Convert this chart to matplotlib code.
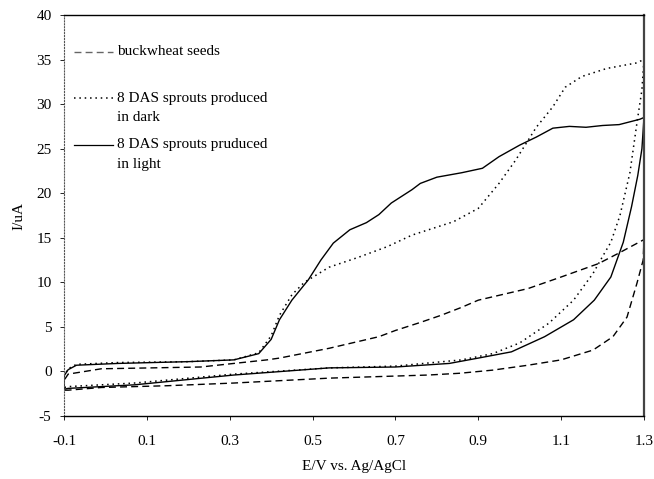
import matplotlib
matplotlib.use('agg')
import matplotlib.pyplot as plt

# scan data (forward sweep then reverse sweep)
light_x = [-0.1, -0.1, -0.09, -0.07, 0.03, 0.2, 0.31, 0.37, 0.4, 0.42, 0.45, 0.49,
           0.52, 0.55, 0.59, 0.63, 0.66, 0.69, 0.74, 0.76, 0.80, 0.86, 0.91, 0.95,
           1.0, 1.04, 1.08, 1.12, 1.16, 1.2, 1.24, 1.29, 1.3,
           1.295, 1.285, 1.27, 1.25, 1.22, 1.18, 1.13, 1.06, 0.98, 0.9, 0.83, 0.7,
           0.54, 0.31, 0.07, -0.09, -0.1]
light_y = [-2.0, -0.5, 0.2, 0.7, 0.9, 1.1, 1.3, 2.0, 3.6, 5.8, 8.0, 10.3,
           12.5, 14.4, 15.9, 16.7, 17.6, 18.9, 20.4, 21.1, 21.8, 22.3, 22.8, 24.1,
           25.4, 26.3, 27.3, 27.5, 27.4, 27.6, 27.7, 28.3, 28.5,
           25.0, 22.0, 18.5, 14.5, 10.6, 8.0, 5.8, 3.9, 2.2, 1.5, 0.9, 0.5,
           0.4, -0.4, -1.5, -1.9, -2.0]

dark_x = [-0.1, -0.1, -0.09, -0.07, 0.03, 0.2, 0.31, 0.37, 0.4, 0.42, 0.45, 0.48,
          0.54, 0.61, 0.68, 0.74, 0.76, 0.84, 0.9, 0.95, 0.99, 1.04, 1.08, 1.11,
          1.15, 1.21, 1.28, 1.3,
          1.295, 1.283, 1.266, 1.242, 1.22, 1.2, 1.177, 1.13, 1.07, 1.0, 0.935,
          0.86, 0.7, 0.54, 0.31, 0.07, -0.09, -0.1]
dark_y = [-1.8, -0.5, 0.3, 0.8, 1.0, 1.1, 1.3, 2.1, 4.0, 6.3, 8.6, 10.0,
          11.7, 12.8, 14.0, 15.3, 15.6, 16.8, 18.3, 21.1, 23.7, 27.4, 29.7, 31.9,
          33.1, 34.0, 34.6, 35.0,
          31.6, 27.9, 22.3, 17.5, 14.5, 12.9, 11.0, 8.0, 5.4, 3.2, 2.0,
          1.3, 0.6, 0.4, -0.3, -1.3, -1.7, -1.8]

seeds_x = [-0.1, -0.1, -0.09, -0.01, 0.23, 0.39, 0.42, 0.54, 0.66, 0.7, 0.76,
           0.81, 0.86, 0.9, 1.02, 1.1, 1.19, 1.24, 1.3,
           1.298, 1.283, 1.259, 1.225, 1.177, 1.1, 1.02, 0.935, 0.856, 0.78,
           0.54, 0.31, 0.15, -0.01, -0.09, -0.1]
seeds_y = [-2.1, -1.0, -0.3, 0.3, 0.5, 1.3, 1.5, 2.6, 3.9, 4.6, 5.5,
           6.3, 7.2, 8.0, 9.3, 10.6, 12.1, 13.3, 14.8,
           12.5, 9.9, 6.1, 3.9, 2.4, 1.3, 0.7, 0.15, -0.2, -0.4,
           -0.75, -1.3, -1.6, -1.8, -2.1, -2.1]

x_ticks = [-0.1, 0.1, 0.3, 0.5, 0.7, 0.9, 1.1, 1.3]
y_ticks = [-5, 0, 5, 10, 15, 20, 25, 30, 35, 40]

labels = [('buckwheat seeds', ''),
          ('8 DAS sprouts produced', 'in dark'),
          ('8 DAS sprouts pruduced', 'in light')]

plt.rcParams['font.family'] = ['Liberation Serif', 'DejaVu Serif']
plt.rcParams['font.size'] = 11
plt.rcParams['axes.unicode_minus'] = False

fig = plt.figure(figsize=(6.54, 4.79), dpi=100)
ax = fig.add_axes([0.0979, 0.1315, 0.8868, 0.8372])

dash = (0, (5, 3))
dot = (0, (1, 2.5))
ax.plot(seeds_x, seeds_y, color='black', lw=1.0, linestyle=dash)
ax.plot(dark_x, dark_y, color='black', lw=1.1, linestyle=dot)
ax.plot(light_x, light_y, color='black', lw=1.0, linestyle='-')

ax.set_xlim(-0.1, 1.3)
ax.set_ylim(-5, 40)
ax.set_xticks(x_ticks)
ax.set_xticklabels([f'{v:.1f}' for v in x_ticks])
ax.set_yticks(y_ticks)
ax.tick_params(axis='both', direction='out', length=3, width=0.6, pad=11)
ax.tick_params(axis='y', pad=6)

ax.spines['left'].set_color('#555555')
ax.spines['left'].set_linestyle(':')
ax.spines['right'].set_color('#444444')
ax.spines['right'].set_linewidth(1.6)
ax.spines['top'].set_linewidth(1.0)
ax.spines['bottom'].set_linewidth(1.0)

ax.set_xlabel('E/V vs. Ag/AgCl', labelpad=8)
ax.set_ylabel('I/uA', labelpad=8)

# legend drawn by hand so the sample line sits on the first text row
styles = [(dash, '#666666', 1.0), (dot, 'black', 1.1), ('-', 'black', 0.9)]
rows_y = [0.908, 0.793, 0.676]
for (ls, c, lw), y, (l1, l2) in zip(styles, rows_y, labels):
    ax.plot([0.017, 0.084], [y, y], transform=ax.transAxes, color=c,
            linestyle=ls, lw=lw)
    ax.text(0.091, y, l1, transform=ax.transAxes, va='center', ha='left')
    if l2:
        ax.text(0.091, y - 0.048, l2, transform=ax.transAxes, va='center',
                ha='left')

fig.savefig('out.png', dpi=100)
